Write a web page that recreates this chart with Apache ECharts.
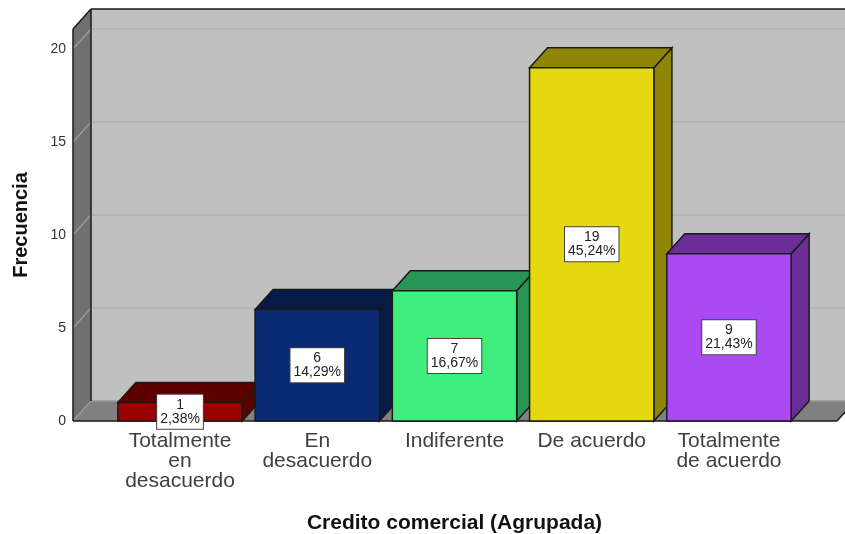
<!DOCTYPE html>
<html>
<head>
<meta charset="utf-8">
<title>Credito comercial</title>
<script src="https://cdn.jsdelivr.net/npm/echarts@6/dist/echarts.min.js"></script>
<style>
  html, body { margin: 0; padding: 0; background: #fff; }
  #chart { width: 845px; height: 534px; }
</style>
</head>
<body>
<div id="chart"></div>
<script>
const categories = ["Totalmente\nen\ndesacuerdo", "En\ndesacuerdo", "Indiferente", "De acuerdo", "Totalmente\nde acuerdo"];
const counts = [1, 6, 7, 19, 9];
const percents = ["2,38%", "14,29%", "16,67%", "45,24%", "21,43%"];
const yTicks = [0, 5, 10, 15, 20];
const frontColors = ["#990000", "#0a2a73", "#40ee7d", "#e6d80e", "#ab4af2"];
const sideColors = ["#5f0000", "#051a45", "#289455", "#8f8608", "#6b2d96"];

// the 3D box: how far the back plane is shifted from the front plane
const depthX = 18;
const depthY = -20;
const gridLeft = 111.4;
const gridRight = 47.4;
const wallInset = 38.4; // front edge of the side wall, left of the first band
const edge = "#1a1a1a";

const chart = echarts.init(document.getElementById("chart"));

function poly(points, fill, stroke, width) {
  return {
    type: "polygon",
    shape: { points: points },
    style: { fill: fill, stroke: stroke || null, lineWidth: width || 0 },
  };
}

function line(a, b, color, width) {
  return {
    type: "line",
    shape: { x1: a[0], y1: a[1], x2: b[0], y2: b[1] },
    style: { stroke: color, lineWidth: width, fill: null },
  };
}

function renderWalls(params, api) {
  const cs = params.coordSys;
  const left = cs.x - wallInset;
  const right = cs.x + cs.width + gridRight - 8;
  const bottom = cs.y + cs.height;
  const top = cs.y;
  const children = [
    poly([[left + depthX, top + depthY], [right + depthX, top + depthY], [right + depthX, bottom + depthY], [left + depthX, bottom + depthY]], "#c0c0c0"),
    poly([[left, top], [left + depthX, top + depthY], [left + depthX, bottom + depthY], [left, bottom]], "#707070"),
    poly([[left, bottom], [left + depthX, bottom + depthY], [right + depthX, bottom + depthY], [right, bottom]], "#808080"),
  ];
  yTicks.forEach(function (t) {
    const y = api.coord([0, t])[1];
    children.push(line([left, y], [left + depthX, y + depthY], "#9a9a9a", 1.5));
    children.push(line([left + depthX, y + depthY], [right + depthX, y + depthY], t === 0 ? "#9a9a9a" : "#b2b2b2", 1.5));
  });
  children.push(line([left, top], [left, bottom], edge, 1.5));
  children.push(line([left, top], [left + depthX, top + depthY], edge, 1.5));
  children.push(line([left + depthX, top + depthY], [left + depthX, bottom + depthY], edge, 1.5));
  children.push(line([left + depthX, top + depthY], [right + depthX, top + depthY], edge, 1.5));
  children.push(line([left, bottom], [right, bottom], edge, 1.5));
  children.push(line([right, bottom], [right + depthX, bottom + depthY], edge, 1.5));
  return { type: "group", children: children };
}

function renderBar(params, api) {
  const i = api.value(0);
  const base = api.coord([i, 0]);
  const head = api.coord([i, api.value(1)]);
  const w = api.size([1, 0])[0] * 0.906;
  const l = base[0] - w / 2;
  const r = base[0] + w / 2;
  const t = head[1];
  const b = base[1];
  return {
    type: "group",
    children: [
      poly([[r, t], [r + depthX, t + depthY], [r + depthX, b + depthY], [r, b]], sideColors[i], edge, 1.5),
      poly([[l, t], [l + depthX, t + depthY], [r + depthX, t + depthY], [r, t]], sideColors[i], edge, 1.5),
      poly([[l, t], [r, t], [r, b], [l, b]], frontColors[i], edge, 1.5),
    ],
  };
}

function renderLabel(params, api) {
  const i = api.value(0);
  const base = api.coord([i, 0]);
  const head = api.coord([i, api.value(1)]);
  return {
    type: "text",
    x: base[0],
    y: (base[1] + head[1]) / 2,
    style: {
      text: counts[i] + "\n" + percents[i],
      fill: "#222",
      font: '14px "Liberation Sans"',
      lineHeight: 14,
      align: "center",
      verticalAlign: "middle",
      backgroundColor: "#fff",
      borderColor: "#444",
      borderWidth: 1,
      padding: [3, 3, 3, 3],
    },
  };
}

const barData = counts.map(function (v, i) { return [i, v]; });

chart.setOption({
  animation: false,
  backgroundColor: "#fff",
  grid: { left: gridLeft, right: gridRight, top: 29, bottom: 113, outerBoundsMode: "none" },
  xAxis: {
    type: "category",
    data: categories,
    name: "Credito comercial (Agrupada)",
    nameLocation: "middle",
    nameGap: 92,
    nameTextStyle: { fontFamily: "Liberation Sans", fontWeight: "bold", fontSize: 21, color: "#111" },
    axisLine: { show: false },
    axisTick: { show: false },
    axisLabel: {
      interval: 0,
      margin: 10,
      fontFamily: "Liberation Sans",
      fontSize: 21,
      lineHeight: 20,
      color: "#404040",
    },
  },
  yAxis: {
    type: "value",
    min: 0,
    max: 21.08,
    interval: 5,
    offset: wallInset,
    name: "Frecuencia",
    nameLocation: "middle",
    nameGap: 42,
    nameTextStyle: { fontFamily: "Liberation Sans", fontWeight: "bold", fontSize: 20, color: "#111" },
    axisLine: { show: false },
    axisTick: { show: false },
    splitLine: { show: false },
    axisLabel: {
      showMaxLabel: false,
      margin: 7,
      padding: [2, 0, 0, 0],
      fontFamily: "Liberation Sans",
      fontSize: 14,
      color: "#333",
    },
  },
  series: [
    { type: "custom", z: 1, renderItem: renderWalls, data: [[0, 0]], silent: true },
    { type: "custom", z: 2, renderItem: renderBar, data: barData, encode: { x: 0, y: 1 } },
    { type: "custom", z: 3, renderItem: renderLabel, data: barData, encode: { x: 0, y: 1 } },
  ],
});
</script>
</body>
</html>
